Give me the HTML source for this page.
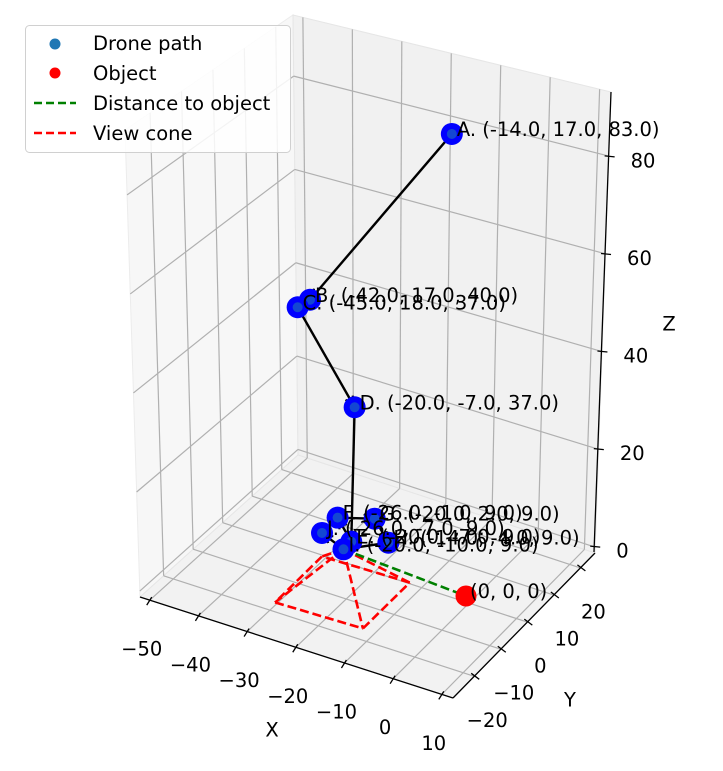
<!DOCTYPE html>
<html><head><meta charset="utf-8"><style>
html,body{margin:0;padding:0;background:#fff;}
svg{display:block;font-family:"DejaVu Sans","Liberation Sans",sans-serif;}
</style></head><body>
<svg id="chart" width="723" height="771" viewBox="0 0 723 771" xmlns="http://www.w3.org/2000/svg">
<g id="panes"></g>
<g id="grid"></g>
<g id="axes"></g>
<g id="marks"></g>
<g id="legend">
  <rect x="25.5" y="25.5" width="265" height="127" rx="4" fill="#fff" fill-opacity="0.85" stroke="#d0d0d0" stroke-width="1"/>
  <g>
    <circle cx="55" cy="44" r="5.5" fill="#1f77b4"/>
    <text x="93" y="50" font-size="19.5">Drone path</text>
  </g>
  <g>
    <circle cx="55" cy="73" r="5.5" fill="#ff0000"/>
    <text x="93" y="80" font-size="19.5">Object</text>
  </g>
  <g>
    <line x1="34" y1="103" x2="76" y2="103" stroke="#008000" stroke-width="2.5" stroke-dasharray="8,4"/>
    <text x="93" y="110" font-size="19.5">Distance to object</text>
  </g>
  <g>
    <line x1="34" y1="133" x2="76" y2="133" stroke="#ff0000" stroke-width="2.5" stroke-dasharray="8,4"/>
    <text x="93" y="140" font-size="19.5">View cone</text>
  </g>
</g>
</svg>
<script>
// ---- data ----
const pointLabels = ["A","B","C","D","E","F","G","H","I","J"];
const pathX = [-14, -42, -45, -20, -20, -26, -20, -14, -20, -26];
const pathY = [17, 17, 18, -7, -7, -1, 2, -4, -10, -7];
const pathZ = [83, 40, 37, 37, 9, 9, 9, 9, 9, 9];
const objectPos = [0, 0, 0];
const coneApex = [-20, -10, 9];
const coneCornersX = [-29, -29, -11, -11];
const coneCornersY = [-1, -19, -19, -1];
const xTicks = [-50, -40, -30, -20, -10, 0, 10];
const yTicks = [-20, -10, 0, 10, 20];
const zTicks = [0, 20, 40, 60, 80];

const NS = "http://www.w3.org/2000/svg";
const xlim = [-52, 12.3], ylim = [-28, 25.5], zlim = [-1.2, 93.1];
const L = [140, 597], F = [453, 698], R = [595, 553], K = [298, 455];
const Lt = [125, 130], Ft = [460, 209], Rt = [611, 92], Kt = [293, 15];
function lerp(a, b, t) { return [a[0] + (b[0] - a[0]) * t, a[1] + (b[1] - a[1]) * t]; }
function boxP(x, y, z) {
  const u = (x - xlim[0]) / (xlim[1] - xlim[0]);
  const v = (y - ylim[0]) / (ylim[1] - ylim[0]);
  const w = (z - zlim[0]) / (zlim[1] - zlim[0]);
  const bot = lerp(lerp(L, F, u), lerp(K, R, u), v);
  const top = lerp(lerp(Lt, Ft, u), lerp(Kt, Rt, u), v);
  return lerp(bot, top, w);
}
function proj(x, y, z) {
  return [466 + 4.88 * x + 2.6 * y + 0.12 * z, 596 + 1.45 * x - 2.55 * y - 4.8 * z];
}
function mk(tag, attrs, parent) {
  const e = document.createElementNS(NS, tag);
  for (const k in attrs) e.setAttribute(k, attrs[k]);
  parent.appendChild(e);
  return e;
}
const panes = document.getElementById("panes");
const grid = document.getElementById("grid");
const axes = document.getElementById("axes");
const marks = document.getElementById("marks");
const pts = a => a.map(p => p[0].toFixed(1) + "," + p[1].toFixed(1)).join(" ");

let e;
e = mk("polygon", { points: pts([L, K, Kt, Lt]), fill: "#f7f7f7", stroke: "#ececec" }, panes);


e = mk("polygon", { points: pts([K, R, Rt, Kt]), fill: "#f1f1f1", stroke: "#e6e6e6" }, panes);


e = mk("polygon", { points: pts([L, F, R, K]), fill: "#f2f2f2", stroke: "#e6e6e6" }, panes);



function gl(a, b, name) {
  const l = mk("line", { x1: a[0], y1: a[1], x2: b[0], y2: b[1], stroke: "#b0b0b0", "stroke-width": 1.2 }, grid);
  
  
}
xTicks.forEach(t => {
  gl(boxP(t, ylim[0], zlim[0]), boxP(t, ylim[1], zlim[0]), 'floor-grid-x');
  gl(boxP(t, ylim[1], zlim[0]), boxP(t, ylim[1], zlim[1]), 'back-grid-x');
});
yTicks.forEach(t => {
  gl(boxP(xlim[0], t, zlim[0]), boxP(xlim[1], t, zlim[0]), 'floor-grid-y');
  gl(boxP(xlim[0], t, zlim[0]), boxP(xlim[0], t, zlim[1]), 'left-grid-y');
});
zTicks.forEach(t => {
  gl(boxP(xlim[0], ylim[0], t), boxP(xlim[0], ylim[1], t), 'left-grid-z');
  gl(boxP(xlim[0], ylim[1], t), boxP(xlim[1], ylim[1], t), 'back-grid-z');
});

function al(a, b, name) {
  const l = mk("line", { x1: a[0], y1: a[1], x2: b[0], y2: b[1], stroke: "#000", "stroke-width": 1.3 }, axes);
  
  
}
function txt(x, y, s, name, anchor) {
  const t = mk("text", { x: x, y: y, "font-size": 19.5, "text-anchor": anchor || "middle", "dominant-baseline": "central" }, axes);
  t.textContent = s;
  
  
}
al(L, F, 'x-axis-line');
al(F, R, 'y-axis-line');
const Z0 = [594, 552], Z1 = [611, 92];
al(Z0, Z1, 'z-axis-line');
const fmt = v => (v < 0 ? "\u2212" + Math.abs(v) : "" + v);
xTicks.forEach(t => {
  const p = boxP(t, ylim[0], zlim[0]);
  al([p[0] + 2, p[1] - 3], [p[0] - 3, p[1] + 5], 'x-tick');
  txt(p[0] - 8, p[1] + 49, fmt(t), 'x-tick-label');
});
yTicks.forEach(t => {
  const p = boxP(xlim[1], t, zlim[0]);
  al([p[0] - 3, p[1] - 3], [p[0] + 5, p[1] + 3], 'y-tick');
  txt(p[0] + 13, p[1] + 44, fmt(t), 'y-tick-label');
});
zTicks.forEach(t => {
  const w = (t - zlim[0]) / (zlim[1] - zlim[0]);
  const p = lerp(Z0, Z1, w);
  al([p[0] - 4, p[1]], [p[0] + 6, p[1] + 1], 'z-tick');
  txt(p[0] + 22, p[1] + 5, fmt(t), 'z-tick-label', 'start');
});
txt(272, 730, "X", 'x-axis-title');
txt(570, 700, "Y", 'y-axis-title');
txt(669, 324, "Z", 'z-axis-title');

const apex = proj(coneApex[0], coneApex[1], coneApex[2]);
const cc = coneCornersX.map((x, i) => proj(x, coneCornersY[i], 0));
function dl(a, b, col, name) {
  const l = mk("line", { x1: a[0], y1: a[1], x2: b[0], y2: b[1], stroke: col, "stroke-width": 2.6, "stroke-dasharray": "9,4" }, marks);
  
  
}
for (let i = 0; i < 4; i++) {
  dl(cc[i], cc[(i + 1) % 4], "#ff0000", 'view-cone-edge');
  dl(apex, cc[i], "#ff0000", 'view-cone-ray');
}
const obj = proj(objectPos[0], objectPos[1], objectPos[2]);
dl(apex, obj, "#008000", 'distance-line');

const P = pathX.map((x, i) => proj(x, pathY[i], pathZ[i]));
for (let i = 0; i < P.length - 1; i++) {
  const a = P[i], b = P[i + 1];
  const l = mk("line", { x1: a[0], y1: a[1], x2: b[0], y2: b[1], stroke: "#000", "stroke-width": 2.4 }, marks);
  
  
  const dx = b[0] - a[0], dy = b[1] - a[1], len = Math.hypot(dx, dy) || 1;
  const ux = dx / len, uy = dy / len, s = 7;
  const hx = b[0] - ux * 4, hy = b[1] - uy * 4;
  const ar = mk("polyline", { points: pts([[hx - ux * s - uy * s * 0.6, hy - uy * s + ux * s * 0.6], [hx, hy], [hx - ux * s + uy * s * 0.6, hy - uy * s - ux * s * 0.6]]), fill: "none", stroke: "#000", "stroke-width": 2.2 }, marks);
  
  
}
P.forEach((p, i) => {
  const c = mk("circle", { cx: p[0], cy: p[1], r: 11, fill: "#0000ff" }, marks);
  
  
  const d = mk("circle", { cx: p[0], cy: p[1], r: 5, fill: "#1f77b4", "fill-opacity": 0.6 }, marks);
  
  
});
P.forEach((p, i) => {
  const t = mk("text", { x: p[0] + 5, y: p[1] + 2, "font-size": 19.5 }, marks);
  t.textContent = pointLabels[i] + ". (" + pathX[i].toFixed(1) + ", " + pathY[i].toFixed(1) + ", " + pathZ[i].toFixed(1) + ")";
  
  
});
const oc = mk("circle", { cx: obj[0], cy: obj[1], r: 10.5, fill: "#ff0000" }, marks);


const ot = mk("text", { x: obj[0] + 4, y: obj[1] + 2, "font-size": 19.5 }, marks);
ot.textContent = "(0, 0, 0)";


</script>
</body></html>
